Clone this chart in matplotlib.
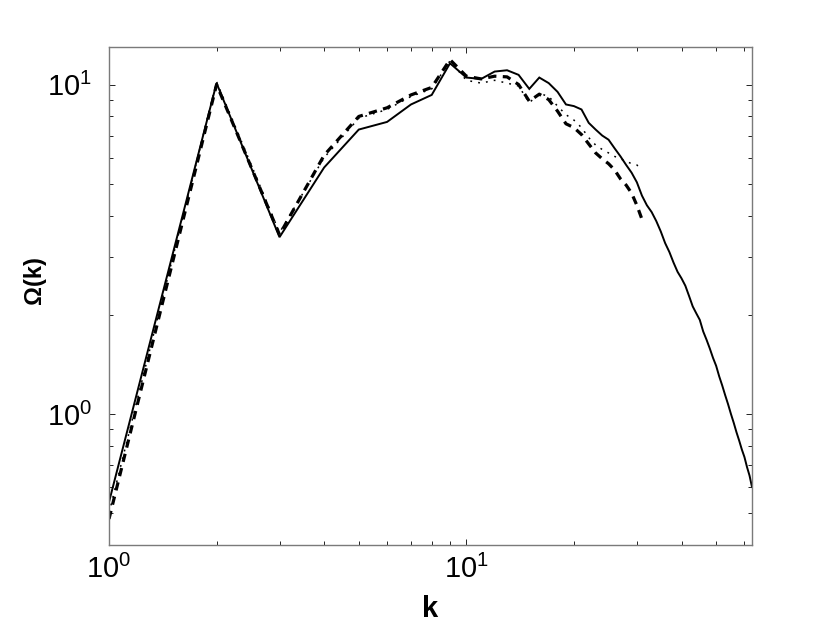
import numpy as np
import matplotlib
matplotlib.use("Agg")
import matplotlib.pyplot as plt

plt.rcParams["font.family"] = ["Liberation Sans", "DejaVu Sans"]
plt.rcParams["mathtext.fontset"] = "custom"
plt.rcParams["mathtext.rm"] = "Liberation Sans"
plt.rcParams["mathtext.it"] = "Liberation Sans:italic"
plt.rcParams["mathtext.bf"] = "Liberation Sans:bold"

# spectrum values
k_solid = list(range(1, 64))
omega_solid = [0.54, 10.1, 3.44, 5.6, 7.3, 7.7, 8.7, 9.3, 11.6, 10.5,
               10.4, 10.95, 11.05, 10.7, 9.7, 10.5, 10.1, 9.5, 8.7, 8.6,
               8.4, 7.65, 7.3, 7.0, 6.8, 6.4, 6.05, 5.7, 5.4, 5.05,
               4.6, 4.3, 4.1, 3.85, 3.58, 3.3, 3.1, 2.88, 2.7, 2.58,
               2.45, 2.28, 2.12, 2.02, 1.93, 1.78, 1.68, 1.58, 1.48, 1.40,
               1.30, 1.22, 1.14, 1.07, 1.0, 0.94, 0.88, 0.83, 0.78, 0.74,
               0.69, 0.65, 0.60]

k_dash = list(range(1, 32))
omega_dash = [0.48, 10.0, 3.5, 6.1, 8.0, 8.5, 9.3, 9.8, 11.9, 10.6,
              10.4, 10.6, 10.55, 10.0, 8.9, 9.35, 9.0, 8.3, 7.6, 7.4,
              7.05, 6.6, 6.2, 5.95, 5.75, 5.5, 5.17, 4.95, 4.68, 4.3,
              3.9]

k_dot = list(range(1, 32))
omega_dot = [0.50, 10.2, 3.55, 6.0, 7.9, 8.4, 9.2, 9.7, 11.8, 10.3,
             10.1, 10.3, 10.1, 9.9, 8.8, 9.4, 9.2, 8.6, 8.1, 7.8,
             7.4, 6.9, 6.55, 6.35, 6.2, 6.05, 5.95, 5.85, 5.75, 5.7,
             5.5]

fig = plt.figure(figsize=(8.3, 6.25), dpi=100)
ax = fig.add_axes([109 / 830, 80 / 625, 643 / 830, 498 / 625])

ax.plot(k_solid, omega_solid, color="k", lw=1.4, solid_joinstyle="miter")
ax.plot(k_dash, omega_dash, color="k", lw=2.3, dashes=(2.6, 2.0))
ax.plot(k_dot, omega_dot, color="k", lw=1.1, dashes=(1.2, 4.0))

ax.set_xscale("log")
ax.set_yscale("log")
ax.set_xlim(1, 63)
ax.set_ylim(0.4, 13)

for s in ax.spines.values():
    s.set_color("#7a7a7a")
    s.set_linewidth(1.0)

ax.tick_params(which="both", direction="in", top=True, right=True,
               color="k", width=0.6)
ax.tick_params(which="major", length=4.5, labelsize=21)
ax.tick_params(which="minor", length=3.2)
ax.tick_params(axis="x", which="major", pad=7)
ax.tick_params(axis="y", which="major", pad=12)

fig.text(430 / 830, 1 - 617 / 625, "k", ha="center", va="baseline",
         fontsize=21, fontweight="bold")
fig.text(34 / 830, 1 - 280 / 625, "Ω(k)", ha="center", va="center",
         rotation=90, fontsize=17, fontweight="bold")

plt.savefig("out.png", dpi=100)
